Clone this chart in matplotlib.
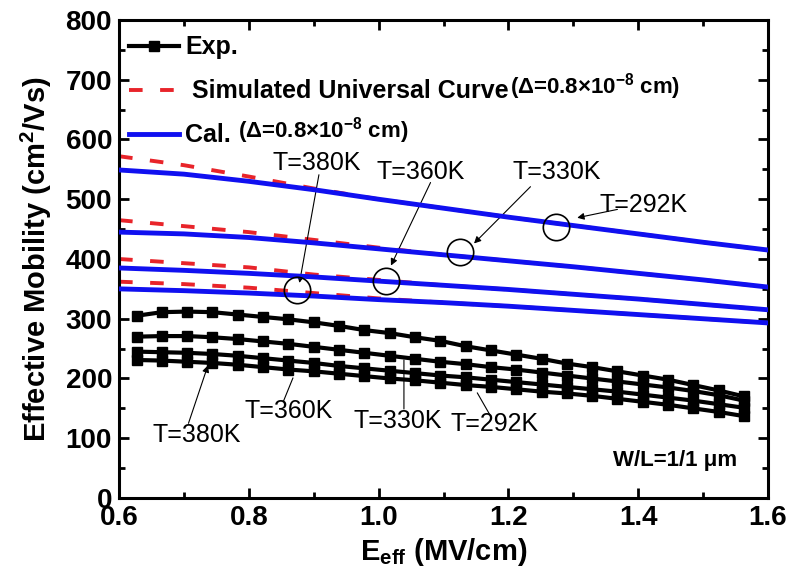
import matplotlib
matplotlib.use("Agg")
import matplotlib.pyplot as plt
from matplotlib.ticker import MultipleLocator

plt.rcParams["font.family"] = ["Liberation Sans", "DejaVu Sans"]
plt.rcParams["font.weight"] = "bold"
plt.rcParams["axes.labelweight"] = "bold"
plt.rcParams["mathtext.fontset"] = "custom"
plt.rcParams["mathtext.rm"] = "Liberation Sans:bold"
plt.rcParams["mathtext.it"] = "Liberation Sans:bold"
plt.rcParams["mathtext.bf"] = "Liberation Sans:bold"
plt.rcParams["mathtext.default"] = "rm"

# calculated (blue) and simulated universal (red dashed) curves
CAL_X = [0.6, 0.7, 0.8, 0.9, 1.0, 1.1, 1.2, 1.3, 1.4, 1.5, 1.6]
CAL_292 = [549, 542, 530, 516, 500, 485, 470, 456, 442, 428, 415]
CAL_330 = [445, 442, 436, 427, 417, 407, 397, 387, 376, 365, 353]
CAL_360 = [385, 381, 376, 370, 363, 356, 349, 341, 333, 324, 315]
CAL_380 = [350, 347, 343, 338, 332, 327, 321, 314, 307, 300, 293]

SIM_292 = [572, 557, 538, 518, 500, 485, 470, 456, 442, 428, 415]
SIM_330 = [465, 455, 445, 432, 419, 407, 397, 387, 376, 365, 353]
SIM_360 = [400, 393, 386, 374, 365, 356, 349, 341, 333, 324, 315]
SIM_380 = [362, 358, 352, 343, 334, 327, 321, 314, 307, 300, 293]

# measured data (black squares)
EXP_X = [0.627, 0.666, 0.705, 0.744, 0.783, 0.822, 0.861, 0.900, 0.939, 0.978,
         1.017, 1.056, 1.095, 1.134, 1.173, 1.212, 1.251, 1.290, 1.329, 1.368,
         1.407, 1.446, 1.485, 1.524, 1.563]
EXP_292 = [305, 311, 312, 311, 307, 303, 299, 294, 288, 281, 276, 269, 263,
           254, 247, 240, 233, 225, 219, 212, 205, 198, 189, 180, 170]
EXP_330 = [270, 271, 271, 269, 266, 262, 258, 253, 248, 243, 238, 233, 228,
           224, 219, 215, 210, 205, 200, 195, 190, 185, 179, 172, 163]
EXP_360 = [245, 244, 243, 241, 238, 234, 230, 226, 221, 217, 213, 209, 205,
           202, 198, 194, 190, 186, 182, 178, 173, 168, 163, 157, 151]
EXP_380 = [231, 230, 228, 226, 223, 219, 215, 212, 208, 204, 200, 197, 193,
           189, 186, 182, 178, 175, 171, 166, 161, 156, 150, 144, 137]

# circled points on the calculated curves, with their labels
CIRCLE_X = [0.874, 1.011, 1.125, 1.274]
CIRCLE_Y = [348, 364, 411, 454]
TOP_LABELS = ["T=380K", "T=360K", "T=330K", "T=292K"]
TOP_TEXT_XY = [(0.904, 561), (1.065, 546), (1.275, 545), (1.408, 490)]
TOP_TAIL_XY = [(0.908, 541), (1.080, 528), (1.234, 521), (1.368, 483)]
TOP_HEAD_XY = [(0.878, 360), (1.019, 389), (1.147, 426), (1.306, 469)]

# labels pointing at the measured curves
BOT_LABELS = ["T=380K", "T=360K", "T=330K", "T=292K"]
BOT_TEXT_XY = [(0.72, 105), (0.862, 146), (1.03, 129), (1.179, 124)]
BOT_TAIL_XY = [(0.707, 125), (0.853, 161), (1.039, 149), (1.171, 140)]
BOT_HEAD_XY = [(0.737, 222), (0.868, 201), (1.039, 231), (1.152, 176)]
BOT_ARROW = [True, False, False, False]

BLUE = "#1010f0"
RED = "#e8242a"


def main():
    fig = plt.figure(figsize=(7.92, 5.83), dpi=100)
    ax = fig.add_axes([0.1503, 0.1458, 0.8194, 0.8199])

    sims = [SIM_292, SIM_330, SIM_360, SIM_380]
    cals = [CAL_292, CAL_330, CAL_360, CAL_380]
    exps = [EXP_292, EXP_330, EXP_360, EXP_380]

    h_exp = h_sim = h_cal = None
    for i, ys in enumerate(exps):
        ln, = ax.plot(EXP_X, ys, color="black", lw=3, marker="s",
                      markersize=7.5, zorder=3)
        if i == 0:
            h_exp = ln
    for i, ys in enumerate(sims):
        ln, = ax.plot(CAL_X, ys, color=RED, lw=2.8, ls=(0, (3.5, 4.5)), zorder=2)
        if i == 0:
            h_sim = ln
    for i, ys in enumerate(cals):
        ln, = ax.plot(CAL_X, ys, color=BLUE, lw=3.5, zorder=4)
        if i == 0:
            h_cal = ln

    ax.plot(CIRCLE_X, CIRCLE_Y, ls="none", marker="o", markersize=19,
            mfc="none", mec="black", mew=1.2, zorder=5)

    for lab, txy, tail, head in zip(TOP_LABELS, TOP_TEXT_XY, TOP_TAIL_XY, TOP_HEAD_XY):
        ax.text(txy[0], txy[1], lab, fontsize=18, fontweight="normal",
                ha="center", va="center", zorder=6)
        ax.annotate("", xy=head, xytext=tail,
                    arrowprops=dict(arrowstyle="-|>", color="black", lw=0.8,
                                    mutation_scale=10, shrinkA=0, shrinkB=0))

    for lab, txy, tail, head, arr in zip(BOT_LABELS, BOT_TEXT_XY, BOT_TAIL_XY,
                                         BOT_HEAD_XY, BOT_ARROW):
        ax.text(txy[0], txy[1], lab, fontsize=18, fontweight="normal",
                ha="center", va="center", zorder=6)
        ax.annotate("", xy=head, xytext=tail,
                    arrowprops=dict(arrowstyle="-|>" if arr else "-",
                                    color="black", lw=0.8,
                                    mutation_scale=10, shrinkA=0, shrinkB=0))

    ax.text(1.457, 62, "W/L=1/1 μm", fontsize=16, ha="center", va="center")

    ax.set_xlim(0.6, 1.6)
    ax.set_ylim(0, 800)
    ax.xaxis.set_major_locator(MultipleLocator(0.2))
    ax.xaxis.set_minor_locator(MultipleLocator(0.1))
    ax.yaxis.set_major_locator(MultipleLocator(100))
    ax.yaxis.set_minor_locator(MultipleLocator(50))
    ax.tick_params(which="both", direction="in", top=True, right=True,
                   width=2, labelsize=20, pad=5)
    ax.tick_params(which="major", length=7)
    ax.tick_params(which="minor", length=4)
    for sp in ax.spines.values():
        sp.set_linewidth(2.2)

    ax.set_xlabel("E$_{eff}$ (MV/cm)", fontsize=21, fontweight="bold", labelpad=4)
    ax.set_ylabel("Effective Mobility (cm$^2$/Vs)", fontsize=21,
                  fontweight="bold", labelpad=8)

    leg = ax.legend([h_exp, h_sim, h_cal],
                    ["Exp.", " Simulated Universal Curve", "Cal."],
                    loc="upper left", bbox_to_anchor=(0.015, 0.968),
                    frameon=False, fontsize=18, handlelength=2.0,
                    handletextpad=0.25, labelspacing=0.8,
                    borderpad=0, borderaxespad=0)

    # the parenthesised part is set smaller, right after the legend text
    fig.canvas.draw()
    suffix = "(Δ=0.8×10$^{-8}$ cm)"
    inv = fig.transFigure.inverted()
    for t, s in zip(leg.get_texts()[1:], [suffix, " " + suffix]):
        bb = t.get_window_extent()
        x0, y0 = inv.transform((bb.x1 + 1, bb.y0 + 1))
        fig.text(x0, y0, s, fontsize=16, ha="left", va="bottom")

    fig.savefig("out.png", dpi=100)
    plt.close(fig)


if __name__ == "__main__":
    main()
